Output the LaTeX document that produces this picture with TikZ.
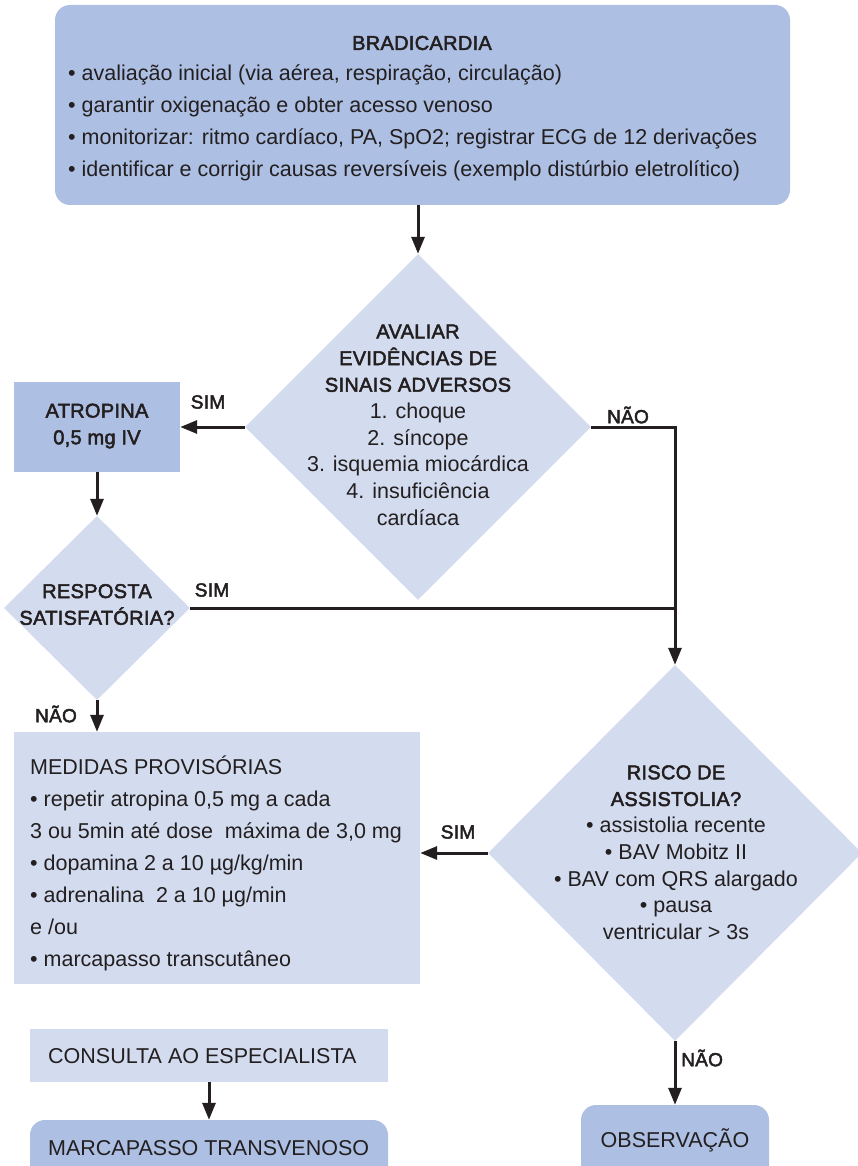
\documentclass[tikz,border=0pt]{standalone}
\usepackage{fontspec}
\setmainfont{Liberation Sans}
\newfontfamily\medfont[FakeBold=2.5,LetterSpace=1.5]{Liberation Sans}
\usetikzlibrary{arrows.meta,shapes.geometric}
\definecolor{darkfill}{RGB}{173,191,227}
\definecolor{lightfill}{RGB}{211,220,239}
\definecolor{ink}{RGB}{35,31,32}
\tikzset{
  darkbox/.style={fill=darkfill, draw=none, inner sep=0pt},
  lightbox/.style={fill=lightfill, draw=none, inner sep=0pt},
  dia/.style={diamond, fill=lightfill, draw=none, inner sep=0pt},
  bodytxt/.style={text=ink, inner sep=0pt, font=\fontsize{21.5}{32}\selectfont, align=left},
  diatxt/.style={text=ink, inner sep=0pt, font=\fontsize{21.5}{26.7}\selectfont, align=center},
  headtxt/.style={text=ink, inner sep=0pt, font=\medfont\fontsize{20}{26.7}\selectfont, align=center},
  labtxt/.style={text=ink, inner sep=0pt, font=\medfont\fontsize{19}{22}\selectfont},
  arr/.style={draw=ink, line width=3pt, -{Triangle[length=17pt,width=13pt]}},
  plainline/.style={draw=ink, line width=3pt},
}
\begin{document}
\begin{tikzpicture}[x=1pt,y=-1pt]
\useasboundingbox (0,0) rectangle (858,1166);

% top box
\node[darkbox, rounded corners=15pt, minimum width=735pt, minimum height=200pt] (top) at (422.5,105) {};
\node[headtxt] (toptitle) at (422,43) {BRADICARDIA};
\node[bodytxt, anchor=west] (toplist) at (68,123) {• avaliação inicial (via aérea, respiração, circulação)\\
• garantir oxigenação e obter acesso venoso\\
• monitorizar: ritmo cardíaco, PA, SpO2; registrar ECG de 12 derivações\\
• identificar e corrigir causas reversíveis (exemplo distúrbio eletrolítico)};

% diamond 1
\node[dia, minimum width=346pt, minimum height=346pt] (d1) at (418,427) {};
\node[diatxt] (d1txt) at (418,425) {{\medfont\fontsize{20}{26.7}\selectfont AVALIAR}\\{\medfont\fontsize{20}{26.7}\selectfont EVIDÊNCIAS DE}\\{\medfont\fontsize{20}{26.7}\selectfont SINAIS ADVERSOS}\\1. choque\\2. síncope\\3. isquemia miocárdica\\4. insuficiência\\cardíaca};

% atropina
\node[darkbox, minimum width=166pt, minimum height=90pt] (atr) at (97,427) {};
\node[headtxt] (atrtxt) at (97,426) {ATROPINA\\0,5 mg IV};

% resposta diamond
\node[dia, minimum width=186pt, minimum height=184pt] (d2) at (97,608) {};
\node[headtxt] (d2txt) at (97,604.5) {RESPOSTA\\SATISFATÓRIA?};

% medidas
\node[lightbox, minimum width=406pt, minimum height=252pt] (med) at (217,858) {};
\node[bodytxt, anchor=west] (medtxt) at (30,863) {MEDIDAS PROVISÓRIAS\\
• repetir atropina 0,5 mg a cada\\
3 ou 5min até dose \ máxima de 3,0 mg\\
• dopamina 2 a 10 µg/kg/min\\
• adrenalina \ 2 a 10 µg/min\\
e /ou\\
• marcapasso transcutâneo};

% risco diamond
\node[dia, minimum width=374pt, minimum height=376pt] (d3) at (675,853) {};
\node[diatxt] (d3txt) at (676,852.5) {{\medfont\fontsize{20}{26.7}\selectfont RISCO DE}\\{\medfont\fontsize{20}{26.7}\selectfont ASSISTOLIA?}\\• assistolia recente\\• BAV Mobitz II\\• BAV com QRS alargado\\• pausa\\ventricular > 3s};

% consulta
\node[lightbox, minimum width=358pt, minimum height=53pt] (cons) at (209,1055.5) {};
\node[bodytxt, anchor=west] (constxt) at (48,1056) {CONSULTA AO ESPECIALISTA};

% marcapasso transvenoso
\node[darkbox, rounded corners=15pt, minimum width=358pt, minimum height=70pt] (mar) at (209,1155) {};
\node[bodytxt, anchor=west] (martxt) at (48,1148) {MARCAPASSO TRANSVENOSO};

% observacao
\node[darkbox, rounded corners=15pt, minimum width=188pt, minimum height=80pt] (obs) at (675,1145) {};
\node[bodytxt, anchor=center] (obstxt) at (675,1140) {OBSERVAÇÃO};

% labels
\node[labtxt] (sim1) at (208,402) {SIM};
\node[labtxt] (nao1) at (628,415) {NÃO};
\node[labtxt] (sim2) at (212,590) {SIM};
\node[labtxt] (nao2) at (56,714) {NÃO};
\node[labtxt] (sim3) at (458,832) {SIM};
\node[labtxt, anchor=west] (nao3) at (681,1058) {NÃO};

% connectors
\draw[arr] (d1.north |- top.south) -- (d1.north);
\draw[arr] (d1.west) -- (atr.east);
\draw[arr] (d1.east) -| (d3.north);
\draw[arr] (atr.south) -- (d2.north);
\draw[plainline] (d2.east) -- (d2.east -| d3.north);
\draw[arr] (d2.south) -- (d2.south |- med.north);
\draw[arr] (d3.west) -- (d3.west -| med.east);
\draw[arr] (d3.south) -- (obs.north);
\draw[arr] (cons.south) -- (mar.north);
\end{tikzpicture}
\end{document}
